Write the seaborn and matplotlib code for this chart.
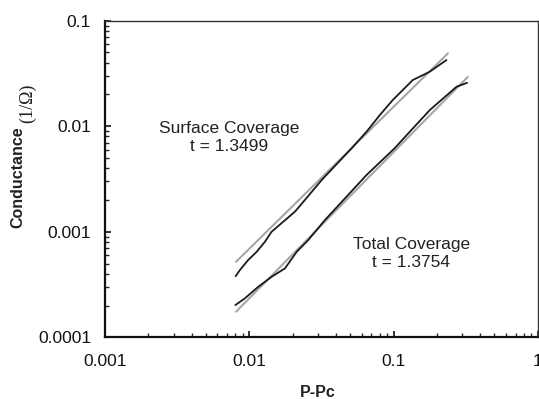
import matplotlib
matplotlib.use('Agg')
import matplotlib.pyplot as plt
import matplotlib.ticker as mticker
import numpy as np
import pandas as pd
import seaborn as sns

surf_x = [0.00804, 0.00861, 0.00982, 0.01124, 0.01283, 0.01426, 0.01718, 0.0207,
          0.02427, 0.0317, 0.0498, 0.0649, 0.0802, 0.0986, 0.1358, 0.1783, 0.2323]
surf_y = [0.00038, 0.000434, 0.00054, 0.000646, 0.000804, 0.001, 0.001245, 0.00155,
          0.002, 0.00309, 0.00594, 0.00887, 0.01275, 0.0177, 0.0274, 0.0329, 0.0424]
total_x = [0.0080, 0.00932, 0.01153, 0.01426, 0.01766, 0.0213, 0.0256, 0.0334,
           0.0649, 0.1019, 0.1294, 0.1783, 0.273, 0.323]
total_y = [0.000202, 0.000234, 0.000301, 0.000374, 0.00045, 0.000646, 0.000834, 0.00129,
           0.00345, 0.00621, 0.00887, 0.01425, 0.02368, 0.0258]

# power-law fit lines (end points)
surf_fit_x = [0.0081, 0.238]
surf_fit_y = [0.00052, 0.0491]
total_fit_x = [0.0081, 0.327]
total_fit_y = [0.000175, 0.0294]

x_ticks = [0.001, 0.01, 0.1, 1]
x_labels = ["0.001", "0.01", "0.1", "1"]
y_ticks = [0.0001, 0.001, 0.01, 0.1]
y_labels = ["0.0001", "0.001", "0.01", "0.1"]

df = pd.concat([
    pd.DataFrame({"x": surf_fit_x, "y": surf_fit_y, "s": "surf_fit"}),
    pd.DataFrame({"x": total_fit_x, "y": total_fit_y, "s": "total_fit"}),
    pd.DataFrame({"x": surf_x, "y": surf_y, "s": "surf"}),
    pd.DataFrame({"x": total_x, "y": total_y, "s": "total"}),
], ignore_index=True)

sns.set_style("ticks")
plt.rcParams['font.family'] = ['Liberation Sans', 'DejaVu Sans']

fig = plt.figure(figsize=(5.39, 3.99), dpi=100)
ax = fig.add_axes([0.1948, 0.1546, 0.8032, 0.7935])

palette = {"surf_fit": "#a3a7ab", "total_fit": "#a3a7ab", "surf": "#1a1a1a", "total": "#1a1a1a"}
sizes = {"surf_fit": 1.5, "total_fit": 1.5, "surf": 1.3, "total": 1.3}
sns.lineplot(data=df, x="x", y="y", hue="s", size="s", palette=palette, sizes=sizes,
             sort=False, estimator=None, legend=False, ax=ax)

ax.set_xscale('log')
ax.set_yscale('log')
ax.set_xlim(0.001, 1)
ax.set_ylim(0.0001, 0.1)
ax.xaxis.set_major_locator(mticker.FixedLocator(x_ticks))
ax.xaxis.set_major_formatter(mticker.FixedFormatter(x_labels))
ax.yaxis.set_major_locator(mticker.FixedLocator(y_ticks))
ax.yaxis.set_major_formatter(mticker.FixedFormatter(y_labels))
ax.xaxis.set_minor_locator(mticker.LogLocator(base=10, subs=np.arange(2, 10)))
ax.yaxis.set_minor_locator(mticker.LogLocator(base=10, subs=np.arange(2, 10)))
ax.xaxis.set_minor_formatter(mticker.NullFormatter())
ax.yaxis.set_minor_formatter(mticker.NullFormatter())

ax.tick_params(which='major', direction='in', length=4.5, width=1.2, labelsize=12.5,
               colors='#111111', top=False, right=False)
ax.tick_params(which='minor', direction='in', length=3, width=1.0,
               top=False, right=False)
ax.tick_params(axis='x', which='major', pad=12)
ax.tick_params(axis='y', which='major', pad=10)

for side in ['left', 'bottom']:
    ax.spines[side].set_linewidth(1.6)
    ax.spines[side].set_color('#111111')
for side in ['top', 'right']:
    ax.spines[side].set_linewidth(1.0)
    ax.spines[side].set_color('#333333')

ax.set_xlabel("")
ax.set_ylabel("")
fig.text(0.590, 0.017, "P-Pc", fontsize=11.5, fontweight='bold', ha='center', va='center',
         color='#222222')
fig.text(0.034, 0.555, "Conductance", fontsize=11.5, fontweight='bold', rotation=90,
         ha='center', va='center', color='#222222')
fig.text(0.051, 0.742, "(1/Ω)", fontsize=13, rotation=90, ha='center', va='center',
         family=['Liberation Serif', 'DejaVu Serif'], color='#222222')

ax.text(0.00723, 0.0078, "Surface Coverage\nt = 1.3499", fontsize=12.5, ha='center',
        va='center', linespacing=1.2, color='#222222')
ax.text(0.133, 0.00062, "Total Coverage\nt = 1.3754", fontsize=12.5, ha='center',
        va='center', linespacing=1.2, color='#222222')

fig.savefig("out.png", dpi=100)
